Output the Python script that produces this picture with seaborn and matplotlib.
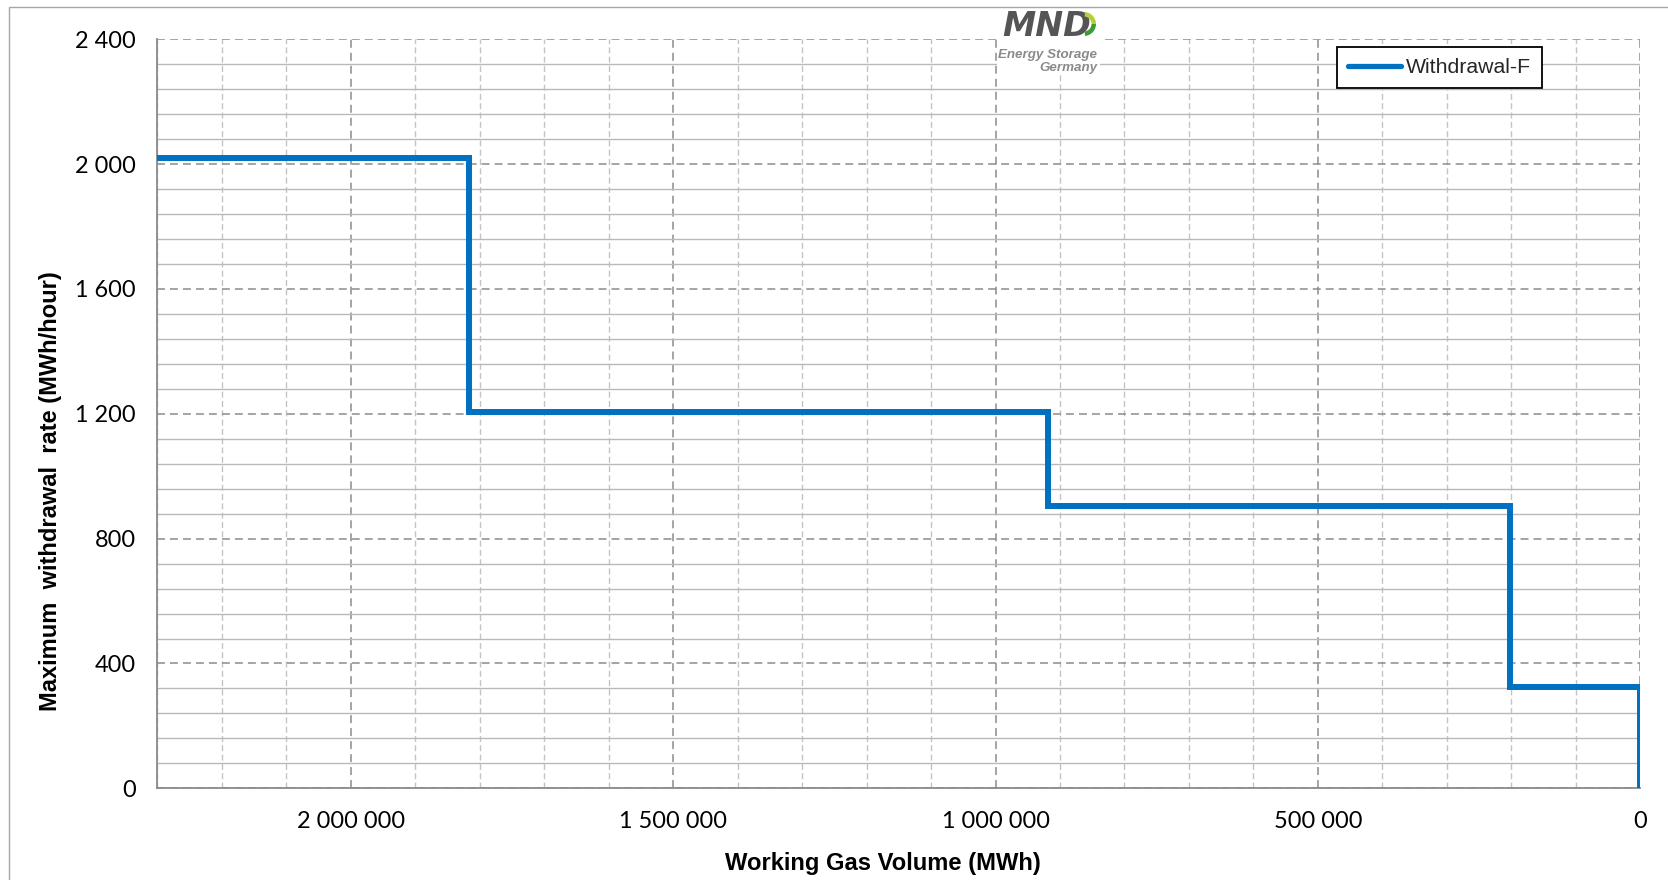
import numpy as np
import pandas as pd
import seaborn as sns
import matplotlib
matplotlib.use("Agg")
import matplotlib.pyplot as plt
from matplotlib.ticker import MultipleLocator, FuncFormatter
from matplotlib.patches import Rectangle, Wedge
from matplotlib.transforms import IdentityTransform

# ---- data ----
volume_breakpoints = [2301000, 1816000, 919000, 202000, 0]   # MWh
withdrawal_rates = [2020, 1205, 905, 325]                       # MWh/hour
series_name = "Withdrawal-F"
x_label = "Working Gas Volume (MWh)"
y_label = "Maximum  withdrawal  rate (MWh/hour)"
y_ticks = [0, 400, 800, 1200, 1600, 2000, 2400]
x_ticks = [0, 500000, 1000000, 1500000, 2000000]

# build the step path from the data
xs, ys = [], []
for i, r in enumerate(withdrawal_rates):
    xs += [volume_breakpoints[i], volume_breakpoints[i + 1]]
    ys += [r, r]
xs.append(volume_breakpoints[-1])
ys.append(0)
df = pd.DataFrame({"volume": xs, "rate": ys, "series": series_name})

sns.set_theme(style="white")
plt.rcParams["font.family"] = ["Liberation Sans", "DejaVu Sans"]

W, H = 1668, 880
fig = plt.figure(figsize=(W / 100, H / 100), dpi=100)
L, R, T, B = 156.7, 1640.3, 39.3, 788.3
ax = fig.add_axes([L / W, 1 - B / H, (R - L) / W, (B - T) / H])

sns.lineplot(data=df, x="volume", y="rate", hue="series", palette=["#0070c0"],
             sort=False, estimator=None, linewidth=4.3, ax=ax,
             solid_joinstyle="miter", zorder=5)

ax.set_xlim(volume_breakpoints[0], 0)
ax.set_ylim(0, 2400)
ax.set_xticks(x_ticks)
ax.set_yticks(y_ticks)
ax.xaxis.set_minor_locator(MultipleLocator(100000))
ax.yaxis.set_minor_locator(MultipleLocator(80))
fmt = FuncFormatter(lambda v, p: f"{int(round(v)):,}".replace(",", " "))
ax.xaxis.set_major_formatter(fmt)
ax.yaxis.set_major_formatter(fmt)

gray_major = "#8c8c8c"
ax.grid(which="major", axis="both", color=gray_major, linewidth=1.1,
        linestyle=(0, (5.2, 3.3)), zorder=1)
ax.grid(which="minor", axis="x", color="#c4c4c4", linewidth=1.0,
        linestyle=(0, (4.3, 2.4)), zorder=1)
ax.grid(which="minor", axis="y", color="#b9b9b9", linewidth=1.0,
        linestyle="-", zorder=1)
ax.set_axisbelow(True)

for s in ["top", "right"]:
    ax.spines[s].set_visible(False)
for s in ["left", "bottom"]:
    ax.spines[s].set_color("#8a8a8a")
    ax.spines[s].set_linewidth(1.3)

ax.tick_params(axis="both", which="major", direction="out", length=6,
               width=1.3, color="#8a8a8a", labelcolor="black")
ax.tick_params(axis="both", which="minor", length=0)
ax.tick_params(axis="y", which="major", pad=9)
ax.tick_params(axis="x", which="major", pad=10)
for lab in ax.get_xticklabels() + ax.get_yticklabels():
    lab.set_fontfamily(["Lato", "DejaVu Sans"])
    lab.set_fontsize(16.9)

ax.set_xlabel(x_label, fontsize=17.1, fontweight="bold", color="black")
ax.set_ylabel(y_label, fontsize=17.0, fontweight="bold", color="black")
ax.xaxis.set_label_coords((882.5 - L) / (R - L), (B - 852) / (B - T))
ax.yaxis.set_label_coords((62 - L) / (R - L), (B - 491) / (B - T))

leg = ax.legend(loc="upper right",
                bbox_to_anchor=((1542 - L) / (R - L), (B - 47.5) / (B - T)),
                borderaxespad=0, frameon=True, fancybox=False,
                prop=dict(family="Liberation Sans", size=15.3),
                handlelength=2.5, handletextpad=0.25, borderpad=0.5)
leg.get_frame().set_edgecolor("black")
leg.get_frame().set_linewidth(1.3)
leg.get_frame().set_alpha(1)
leg.set_title(None)
for h in leg.get_lines():
    h.set_linewidth(3.8)
    h.set_solid_capstyle("round")

# outer chart border
fig.add_artist(Rectangle((9.3, -20), 1800, H - 6.7 + 20, fill=False,
                         edgecolor="#a6a6a6", linewidth=1.0,
                         transform=IdentityTransform(), zorder=2))

# logo (white backdrop + text)
fig.add_artist(Rectangle((997, H - 75), 103, 65, facecolor="white",
                         edgecolor="none", transform=IdentityTransform(), zorder=3))
fig.text(1002 / W, 1 - 35.5 / H, "MND", fontsize=24, fontweight="heavy",
         fontstyle="italic", family=["DejaVu Sans"], color="#555555",
         ha="left", va="baseline", zorder=4)
fig.add_artist(Wedge((1084, H - 24), 12, 0, 85, width=4.5, facecolor="#b5cf3a",
                     edgecolor="none", transform=IdentityTransform(), zorder=5))
fig.add_artist(Wedge((1084, H - 24), 12, -85, 0, width=4.5, facecolor="#3d9a35",
                     edgecolor="none", transform=IdentityTransform(), zorder=5))
fig.text(1097 / W, 1 - 58 / H, "Energy Storage", fontsize=9.6, fontweight="bold",
         fontstyle="italic", color="#8a8a8a", ha="right", va="baseline", zorder=4)
fig.text(1097 / W, 1 - 71 / H, "Germany", fontsize=9.6, fontweight="bold",
         fontstyle="italic", color="#8a8a8a", ha="right", va="baseline", zorder=4)

fig.savefig("out.png", dpi=100)
